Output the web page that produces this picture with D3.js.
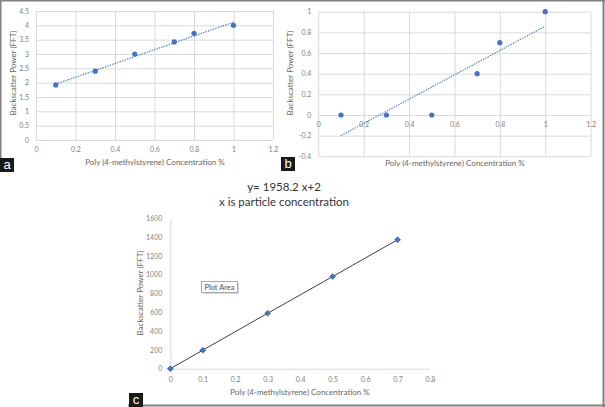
<!DOCTYPE html>
<html><head><meta charset="utf-8">
<script src="https://cdn.jsdelivr.net/npm/d3@7"></script>
<style>
html,body{margin:0;padding:0;background:#fff;}
svg{display:block;font-family:Lato,"Open Sans",sans-serif;}
</style></head>
<body>
<svg id="chart" width="605" height="407"></svg>
<script>
// ---- data ----
const concA = [0.1, 0.3, 0.5, 0.7, 0.8, 1.0];
const powerA = [1.92, 2.4, 3.0, 3.42, 3.72, 4.0];
const trendA = [[0.1, 1.95], [1.0, 4.11]];
const xTicksA = [0, 0.2, 0.4, 0.6, 0.8, 1, 1.2];
const yTicksA = [0, 0.5, 1, 1.5, 2, 2.5, 3, 3.5, 4, 4.5];

const concB = [0.1, 0.3, 0.5, 0.7, 0.8, 1.0];
const powerB = [0, 0, 0, 0.4, 0.7, 1.0];
const trendB = [[0.1, -0.2], [1.0, 0.86]];
const xTicksB = [0, 0.2, 0.4, 0.6, 0.8, 1, 1.2];
const yTicksB = [-0.4, -0.2, 0, 0.2, 0.4, 0.6, 0.8, 1];

const concC = [0, 0.1, 0.3, 0.5, 0.7];
const powerC = [0, 197, 590, 980, 1372];
const xTicksC = [0, 0.1, 0.2, 0.3, 0.4, 0.5, 0.6, 0.7, 0.8];
const yTicksC = [0, 200, 400, 600, 800, 1000, 1200, 1400, 1600];

const xTitle = "Poly (4-methylstyrene) Concentration %";
const yTitle = "Backscatter Power (FFT)";
const titleC = ["y= 1958.2 x+2", "x is particle concentration"];

// ---- styles ----
const gridCol = "#d9d9d9", tickCol = "#7f7f7f", titleCol = "#666", markCol = "#4472c4";
const svg = d3.select("#chart");

// outer frame: top, right, bottom (from panel c), left (top part)
const frameCol = "#808080";
svg.append("line").attr("x1", 0).attr("x2", 605).attr("y1", 0.5).attr("y2", 0.5).attr("stroke", frameCol).attr("stroke-width", 2);
svg.append("line").attr("x1", 603.5).attr("x2", 603.5).attr("y1", 0).attr("y2", 407).attr("stroke", frameCol).attr("stroke-width", 2);
svg.append("line").attr("x1", 128).attr("x2", 605).attr("y1", 405.5).attr("y2", 405.5).attr("stroke", frameCol).attr("stroke-width", 2);
svg.append("line").attr("x1", 0.5).attr("x2", 0.5).attr("y1", 0).attr("y2", 172).attr("stroke", frameCol).attr("stroke-width", 2);

function fmt(v){ return String(+v.toFixed(2)); }

function gridPanel(o){
  const x = d3.scaleLinear().domain(o.xd).range([o.x0, o.x1]);
  const y = d3.scaleLinear().domain(o.yd).range([o.y1, o.y0]);
  const g = svg.append("g");
  g.append("g").attr("transform", `translate(0,${o.y1})`)
    .call(d3.axisBottom(x).tickValues(o.xt).tickSize(-(o.y1 - o.y0)).tickFormat(""))
    .call(s => s.select(".domain").remove())
    .selectAll("line").attr("stroke", gridCol);
  g.append("g").attr("transform", `translate(${o.x0},0)`)
    .call(d3.axisLeft(y).tickValues(o.yt).tickSize(-(o.x1 - o.x0)).tickFormat(""))
    .call(s => s.select(".domain").remove())
    .selectAll("line").attr("stroke", gridCol);
  g.append("g").attr("transform", `translate(${o.x0},0)`)
    .call(d3.axisLeft(y).tickValues(o.yt).tickSize(0).tickPadding(7).tickFormat(fmt))
    .call(s => s.select(".domain").remove())
    .selectAll("text").attr("fill", tickCol).attr("font-size", 7).attr("font-family", "Lato");
  const y0 = y(0);
  g.append("g").attr("transform", `translate(0,${y0})`)
    .call(d3.axisBottom(x).tickValues(o.xt).tickSize(0).tickPadding(7).tickFormat(fmt))
    .call(s => s.select(".domain").remove())
    .selectAll("text").attr("fill", tickCol).attr("font-size", 7).attr("font-family", "Lato");
  g.append("path").datum(o.trend)
    .attr("d", d3.line().x(d => x(d[0])).y(d => y(d[1])))
    .attr("fill", "none").attr("stroke", markCol).attr("stroke-width", 1.2).attr("stroke-dasharray", "1.3,1.3");
  g.selectAll("circle.pt").data(o.xs).join("circle")
    .attr("cx", d => x(d)).attr("cy", (d, i) => y(o.ys[i])).attr("r", 2.6).attr("fill", markCol);
  g.append("text").attr("x", o.xtx).attr("y", o.xty).attr("text-anchor", "middle")
    .attr("fill", titleCol).attr("font-size", 8).text(xTitle);
  g.append("text").attr("transform", `translate(${o.ytx},${o.yty}) rotate(-90)`).attr("text-anchor", "middle")
    .attr("fill", titleCol).attr("font-size", 8).text(yTitle);
}

gridPanel({xd:[0,1.2], yd:[0,4.5], x0:36, x1:273, y0:11, y1:140, xt:xTicksA, yt:yTicksA,
  xs:concA, ys:powerA, trend:trendA, xtx:155, xty:165, ytx:16, yty:73});
gridPanel({xd:[0,1.2], yd:[-0.4,1], x0:318.3, x1:590.6, y0:11.7, y1:156.3, xt:xTicksB, yt:yTicksB,
  xs:concB, ys:powerB, trend:trendB, xtx:455, xty:166, ytx:293, yty:73});

function panelLabel(x, y, t){
  svg.append("rect").attr("x", x).attr("y", y).attr("width", 14).attr("height", 14).attr("fill", "#1a1a1a");
  svg.append("text").attr("x", x + 7).attr("y", y + 11).attr("text-anchor", "middle")
    .attr("fill", "#fff").attr("font-size", 13).attr("font-family", "Liberation Sans, Arial").text(t);
}
panelLabel(0, 158, "a");
panelLabel(281, 157, "b");
panelLabel(129, 393, "c");

// panel c
(function(){
  const x = d3.scaleLinear().domain([0, 0.8]).range([170.3, 430]);
  const y = d3.scaleLinear().domain([0, 1600]).range([368.7, 218.3]);
  const g = svg.append("g");
  g.append("g").attr("transform", `translate(0,${y(0)})`)
    .call(d3.axisBottom(x).tickValues(xTicksC).tickSize(0).tickPadding(8).tickFormat(fmt))
    .call(s => s.select(".domain").attr("stroke", gridCol))
    .selectAll("text").attr("fill", tickCol).attr("font-size", 7).attr("font-family", "Lato");
  g.append("g").attr("transform", `translate(${x(0)},0)`)
    .call(d3.axisLeft(y).tickValues(yTicksC).tickSize(0).tickPadding(8).tickFormat(d3.format("d")))
    .call(s => s.select(".domain").attr("stroke", gridCol))
    .selectAll("text").attr("fill", tickCol).attr("font-size", 7).attr("font-family", "Lato");
  g.append("path").datum(concC.map((c, i) => [c, powerC[i]]))
    .attr("d", d3.line().x(d => x(d[0])).y(d => y(d[1])))
    .attr("fill", "none").attr("stroke", "#404040").attr("stroke-width", 1);
  g.selectAll("path.pt").data(concC).join("path")
    .attr("transform", (d, i) => `translate(${x(d)},${y(powerC[i])}) rotate(45)`)
    .attr("d", d3.symbol(d3.symbolSquare, 18)).attr("fill", markCol).attr("stroke", "#2f5597").attr("stroke-width", 0.5);
  g.append("text").attr("x", 300).attr("y", 395).attr("text-anchor", "middle")
    .attr("fill", titleCol).attr("font-size", 8).text(xTitle);
  g.append("text").attr("transform", `translate(143,293) rotate(-90)`).attr("text-anchor", "middle")
    .attr("fill", titleCol).attr("font-size", 8).text(yTitle);
  titleC.forEach((t, i) => {
    g.append("text").attr("x", 284).attr("y", 191 + i * 15).attr("text-anchor", "middle")
      .attr("fill", "#333").attr("font-size", 11.5).text(t);
  });
  g.append("rect").attr("x", 203).attr("y", 283).attr("width", 36).attr("height", 11).attr("fill", "#d8d8d8");
  g.append("rect").attr("x", 201.5).attr("y", 281.5).attr("width", 36).attr("height", 11)
    .attr("fill", "#fbfbfb").attr("stroke", "#9a9a9a").attr("stroke-width", 0.8);
  g.append("text").attr("x", 219.5).attr("y", 290).attr("text-anchor", "middle")
    .attr("fill", "#555").attr("font-size", 7.5).text("Plot Area");
})();
</script>
</body></html>
